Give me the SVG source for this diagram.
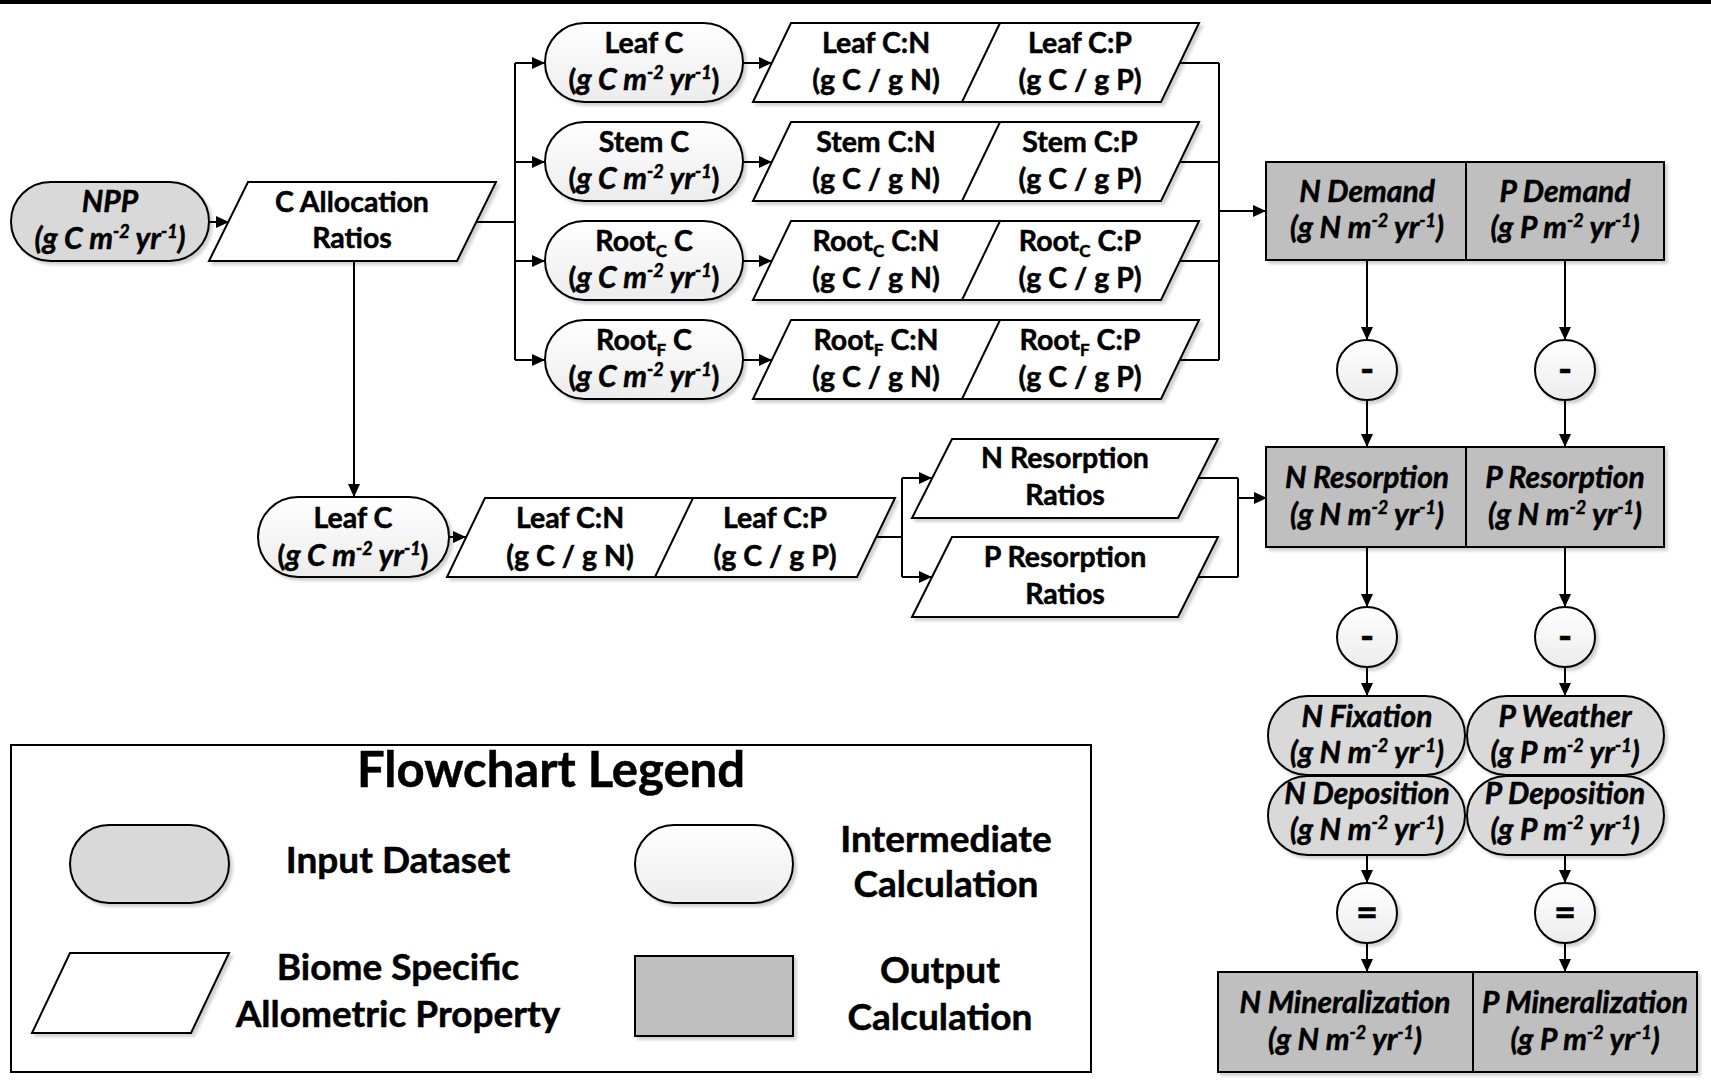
<svg xmlns="http://www.w3.org/2000/svg" width="1711" height="1089" viewBox="0 0 1711 1089">
<style>
text{font-family:Lato,"Liberation Sans",sans-serif;font-weight:bold;font-size:28.5px;fill:#000;stroke:#000;stroke-width:0.5px;text-anchor:middle}
.i{font-style:italic;font-size:30px}
.s{font-size:18px}
.b{font-size:17px}
.op{font-size:38px}
.lg{font-size:37px}
.ttl{font-size:49px}
.inp{fill:#d9d9d9;stroke:#000;stroke-width:2}
.mid{fill:url(#gw);stroke:#000;stroke-width:2}
.para{fill:#fff;stroke:#000;stroke-width:2}
.out{fill:#bfbfbf;stroke:#000;stroke-width:2}
.cir{fill:url(#gw);stroke:#000;stroke-width:2}
.sh{filter:url(#ds)}
#conn path{fill:none;stroke:#000;stroke-width:2}
.ar{marker-end:url(#ah)}
</style>
<defs>
<linearGradient id="gw" x1="0" y1="0" x2="0" y2="1"><stop offset="0" stop-color="#fff"/><stop offset="1" stop-color="#ececec"/></linearGradient>
<filter id="ds" x="-10%" y="-10%" width="130%" height="140%"><feDropShadow dx="3" dy="3" stdDeviation="1.5" flood-color="#000" flood-opacity="0.18"/></filter>
<marker id="ah" markerUnits="userSpaceOnUse" markerWidth="13" markerHeight="12" refX="13" refY="6" orient="auto"><path d="M0,0 L13,6 L0,12 z" fill="#000"/></marker>
</defs>
<rect x="0" y="0" width="1711" height="4" fill="#000"/>

<g id="conn">
<path class="ar" d="M209,222 H229"/>
<path d="M476,222 H515 M515,63 V360"/>
<path class="ar" d="M515,63 H545"/>
<path class="ar" d="M515,162 H545"/>
<path class="ar" d="M515,261 H545"/>
<path class="ar" d="M515,360 H545"/>
<path class="ar" d="M743,63 H772"/>
<path class="ar" d="M743,162 H772"/>
<path class="ar" d="M743,261 H772"/>
<path class="ar" d="M743,360 H772"/>
<path d="M1180,63 H1219 M1180,162 H1219 M1180,261 H1219 M1180,360 H1219 M1219,63 V360"/>
<path class="ar" d="M1219,211 H1266"/>
<path class="ar" d="M354,260 V497"/>
<path class="ar" d="M449,537 H466"/>
<path d="M876,537 H902 M902,478 V577"/>
<path class="ar" d="M902,478 H932"/>
<path class="ar" d="M902,577 H932"/>
<path d="M1198,478 H1238 M1198,577 H1238 M1238,478 V577"/>
<path class="ar" d="M1238,498 H1267"/>
<path class="ar" d="M1367,260 V340"/>
<path class="ar" d="M1367,400 V447"/>
<path class="ar" d="M1367,547 V607"/>
<path class="ar" d="M1367,667 V696"/>
<path class="ar" d="M1367,855 V883"/>
<path class="ar" d="M1367,943 V972"/>
<path class="ar" d="M1565,260 V340"/>
<path class="ar" d="M1565,400 V447"/>
<path class="ar" d="M1565,547 V607"/>
<path class="ar" d="M1565,667 V696"/>
<path class="ar" d="M1565,855 V883"/>
<path class="ar" d="M1565,943 V972"/>
</g>

<g id="npp">
<rect class="inp sh" x="11" y="182" width="198" height="79" rx="39.5"/>
<text class="i" x="110" y="212">NPP</text>
<text class="i" x="110" y="249">(g C m<tspan class="s" dy="-11">-2</tspan><tspan dy="11"> yr</tspan><tspan class="s" dy="-11">-1</tspan><tspan dy="11">)</tspan></text>
</g>

<g id="c-allocation">
<polygon class="para sh" points="248,182 496,182 457,261 209,261"/>
<text x="352" y="212">C Allocation</text>
<text x="352" y="248">Ratios</text>
</g>

<g id="leaf-c">
<rect class="mid sh" x="545" y="23" width="198" height="79" rx="39.5"/>
<text x="644" y="53">Leaf C</text>
<text x="644" y="90">(<tspan class="i">g C m</tspan><tspan class="i s" dy="-11">-2</tspan><tspan class="i" dy="11"> yr</tspan><tspan class="i s" dy="-11">-1</tspan><tspan dy="11">)</tspan></text>
</g>
<g id="stem-c">
<rect class="mid sh" x="545" y="122" width="198" height="79" rx="39.5"/>
<text x="644" y="152">Stem C</text>
<text x="644" y="189">(<tspan class="i">g C m</tspan><tspan class="i s" dy="-11">-2</tspan><tspan class="i" dy="11"> yr</tspan><tspan class="i s" dy="-11">-1</tspan><tspan dy="11">)</tspan></text>
</g>
<g id="rootc-c">
<rect class="mid sh" x="545" y="221" width="198" height="79" rx="39.5"/>
<text x="644" y="251">Root<tspan class="b" dy="6">C</tspan><tspan dy="-6"> C</tspan></text>
<text x="644" y="288">(<tspan class="i">g C m</tspan><tspan class="i s" dy="-11">-2</tspan><tspan class="i" dy="11"> yr</tspan><tspan class="i s" dy="-11">-1</tspan><tspan dy="11">)</tspan></text>
</g>
<g id="rootf-c">
<rect class="mid sh" x="545" y="320" width="198" height="79" rx="39.5"/>
<text x="644" y="350">Root<tspan class="b" dy="6">F</tspan><tspan dy="-6"> C</tspan></text>
<text x="644" y="387">(<tspan class="i">g C m</tspan><tspan class="i s" dy="-11">-2</tspan><tspan class="i" dy="11"> yr</tspan><tspan class="i s" dy="-11">-1</tspan><tspan dy="11">)</tspan></text>
</g>

<g id="leaf-ratios">
<polygon class="para sh" points="791,23 1199,23 1161,102 753,102"/>
<path d="M1000,23 L962,102" stroke="#000" stroke-width="2" fill="none"/>
<text x="876" y="53">Leaf C:N</text>
<text x="876" y="90">(g C / g N)</text>
<text x="1080" y="53">Leaf C:P</text>
<text x="1080" y="90">(g C / g P)</text>
</g>
<g id="stem-ratios">
<polygon class="para sh" points="791,122 1199,122 1161,201 753,201"/>
<path d="M1000,122 L962,201" stroke="#000" stroke-width="2" fill="none"/>
<text x="876" y="152">Stem C:N</text>
<text x="876" y="189">(g C / g N)</text>
<text x="1080" y="152">Stem C:P</text>
<text x="1080" y="189">(g C / g P)</text>
</g>
<g id="rootc-ratios">
<polygon class="para sh" points="791,221 1199,221 1161,300 753,300"/>
<path d="M1000,221 L962,300" stroke="#000" stroke-width="2" fill="none"/>
<text x="876" y="251">Root<tspan class="b" dy="6">C</tspan><tspan dy="-6"> C:N</tspan></text>
<text x="876" y="288">(g C / g N)</text>
<text x="1080" y="251">Root<tspan class="b" dy="6">C</tspan><tspan dy="-6"> C:P</tspan></text>
<text x="1080" y="288">(g C / g P)</text>
</g>
<g id="rootf-ratios">
<polygon class="para sh" points="791,320 1199,320 1161,399 753,399"/>
<path d="M1000,320 L962,399" stroke="#000" stroke-width="2" fill="none"/>
<text x="876" y="350">Root<tspan class="b" dy="6">F</tspan><tspan dy="-6"> C:N</tspan></text>
<text x="876" y="387">(g C / g N)</text>
<text x="1080" y="350">Root<tspan class="b" dy="6">F</tspan><tspan dy="-6"> C:P</tspan></text>
<text x="1080" y="387">(g C / g P)</text>
</g>

<g id="leaf-c-2">
<rect class="mid sh" x="258" y="497" width="191" height="80" rx="40"/>
<text x="353" y="528">Leaf C</text>
<text x="353" y="566">(<tspan class="i">g C m</tspan><tspan class="i s" dy="-11">-2</tspan><tspan class="i" dy="11"> yr</tspan><tspan class="i s" dy="-11">-1</tspan><tspan dy="11">)</tspan></text>
</g>
<g id="leaf-ratios-2">
<polygon class="para sh" points="485,498 895,498 857,577 447,577"/>
<path d="M693,498 L655,577" stroke="#000" stroke-width="2" fill="none"/>
<text x="570" y="528">Leaf C:N</text>
<text x="570" y="566">(g C / g N)</text>
<text x="775" y="528">Leaf C:P</text>
<text x="775" y="566">(g C / g P)</text>
</g>

<g id="n-resorption-ratios">
<polygon class="para sh" points="952,439 1218,439 1178,518 912,518"/>
<text x="1065" y="468">N Resorption</text>
<text x="1065" y="505">Ratios</text>
</g>
<g id="p-resorption-ratios">
<polygon class="para sh" points="952,537 1218,537 1178,617 912,617"/>
<text x="1065" y="567">P Resorption</text>
<text x="1065" y="604">Ratios</text>
</g>

<g id="demand">
<rect class="out sh" x="1266" y="162" width="398" height="98"/>
<path d="M1466,162 V260" stroke="#000" stroke-width="2"/>
<text class="i" x="1367" y="202">N Demand</text>
<text class="i" x="1367" y="238">(g N m<tspan class="s" dy="-11">-2</tspan><tspan dy="11"> yr</tspan><tspan class="s" dy="-11">-1</tspan><tspan dy="11">)</tspan></text>
<text class="i" x="1565" y="202">P Demand</text>
<text class="i" x="1565" y="238">(g P m<tspan class="s" dy="-11">-2</tspan><tspan dy="11"> yr</tspan><tspan class="s" dy="-11">-1</tspan><tspan dy="11">)</tspan></text>
</g>

<g id="minus-1">
<circle class="cir sh" cx="1367" cy="370" r="30"/><text class="op" x="1367" y="383">-</text>
<circle class="cir sh" cx="1565" cy="370" r="30"/><text class="op" x="1565" y="383">-</text>
</g>

<g id="resorption">
<rect class="out sh" x="1266" y="447" width="398" height="100"/>
<path d="M1466,447 V547" stroke="#000" stroke-width="2"/>
<text class="i" x="1367" y="488">N Resorption</text>
<text class="i" x="1367" y="525">(g N m<tspan class="s" dy="-11">-2</tspan><tspan dy="11"> yr</tspan><tspan class="s" dy="-11">-1</tspan><tspan dy="11">)</tspan></text>
<text class="i" x="1565" y="488">P Resorption</text>
<text class="i" x="1565" y="525">(g N m<tspan class="s" dy="-11">-2</tspan><tspan dy="11"> yr</tspan><tspan class="s" dy="-11">-1</tspan><tspan dy="11">)</tspan></text>
</g>

<g id="minus-2">
<circle class="cir sh" cx="1367" cy="637" r="30"/><text class="op" x="1367" y="650">-</text>
<circle class="cir sh" cx="1565" cy="637" r="30"/><text class="op" x="1565" y="650">-</text>
</g>

<g id="n-fixation">
<rect class="inp sh" x="1268" y="696" width="197" height="79" rx="39.5"/>
<text class="i" x="1367" y="727">N Fixation</text>
<text class="i" x="1367" y="763">(g N m<tspan class="s" dy="-11">-2</tspan><tspan dy="11"> yr</tspan><tspan class="s" dy="-11">-1</tspan><tspan dy="11">)</tspan></text>
</g>
<g id="n-deposition">
<rect class="inp sh" x="1268" y="776" width="197" height="79" rx="39.5"/>
<text class="i" x="1367" y="804">N Deposition</text>
<text class="i" x="1367" y="840">(g N m<tspan class="s" dy="-11">-2</tspan><tspan dy="11"> yr</tspan><tspan class="s" dy="-11">-1</tspan><tspan dy="11">)</tspan></text>
</g>
<g id="p-weather">
<rect class="inp sh" x="1467" y="696" width="197" height="79" rx="39.5"/>
<text class="i" x="1565" y="727">P Weather</text>
<text class="i" x="1565" y="763">(g P m<tspan class="s" dy="-11">-2</tspan><tspan dy="11"> yr</tspan><tspan class="s" dy="-11">-1</tspan><tspan dy="11">)</tspan></text>
</g>
<g id="p-deposition">
<rect class="inp sh" x="1467" y="776" width="197" height="79" rx="39.5"/>
<text class="i" x="1565" y="804">P Deposition</text>
<text class="i" x="1565" y="840">(g P m<tspan class="s" dy="-11">-2</tspan><tspan dy="11"> yr</tspan><tspan class="s" dy="-11">-1</tspan><tspan dy="11">)</tspan></text>
</g>

<g id="equals">
<circle class="cir sh" cx="1367" cy="913" r="30"/><text class="op" x="1367" y="926">=</text>
<circle class="cir sh" cx="1565" cy="913" r="30"/><text class="op" x="1565" y="926">=</text>
</g>

<g id="mineralization">
<rect class="out sh" x="1218" y="972" width="479" height="100"/>
<path d="M1473,972 V1072" stroke="#000" stroke-width="2"/>
<text class="i" x="1345" y="1013">N Mineralization</text>
<text class="i" x="1345" y="1050">(g N m<tspan class="s" dy="-11">-2</tspan><tspan dy="11"> yr</tspan><tspan class="s" dy="-11">-1</tspan><tspan dy="11">)</tspan></text>
<text class="i" x="1585" y="1013">P Mineralization</text>
<text class="i" x="1585" y="1050">(g P m<tspan class="s" dy="-11">-2</tspan><tspan dy="11"> yr</tspan><tspan class="s" dy="-11">-1</tspan><tspan dy="11">)</tspan></text>
</g>

<g id="legend">
<rect x="11" y="745" width="1080" height="327" fill="#fff" stroke="#000" stroke-width="2"/>
<text class="ttl" x="551" y="787">Flowchart Legend</text>
<rect class="inp sh" x="70" y="825" width="159" height="78" rx="39"/>
<text class="lg" x="398" y="873">Input Dataset</text>
<rect class="mid sh" x="635" y="825" width="158" height="78" rx="39"/>
<text class="lg" x="946" y="852">Intermediate</text>
<text class="lg" x="946" y="897">Calculation</text>
<polygon class="para sh" points="70,953 229,953 191,1033 32,1033"/>
<text class="lg" x="398" y="980">Biome Specific</text>
<text class="lg" x="398" y="1027">Allometric Property</text>
<rect class="out sh" x="635" y="956" width="158" height="80"/>
<text class="lg" x="940" y="983">Output</text>
<text class="lg" x="940" y="1030">Calculation</text>
</g>
</svg>
